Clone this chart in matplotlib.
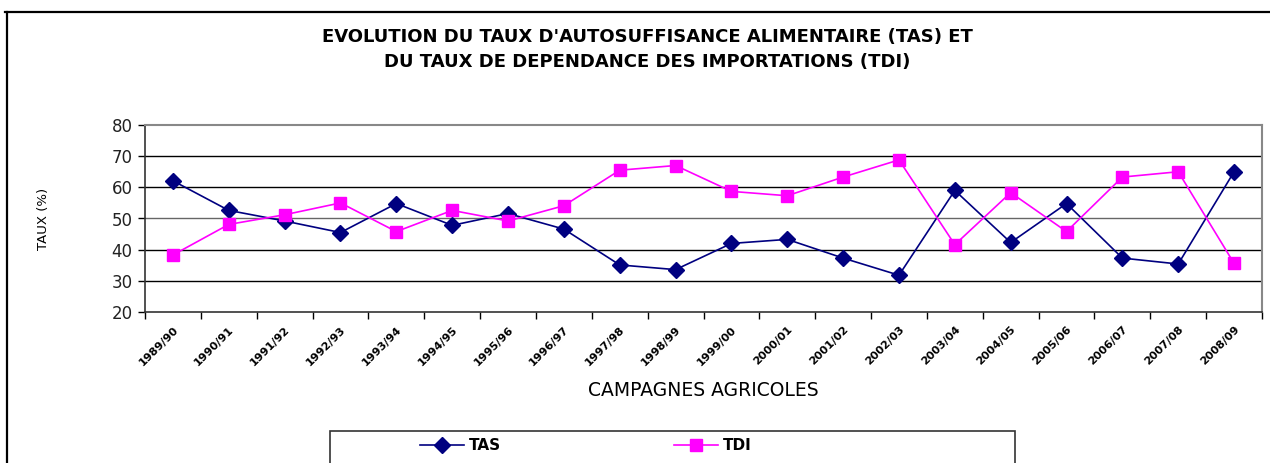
import matplotlib.pyplot as plt
from matplotlib.lines import Line2D
from matplotlib.patches import Rectangle
import numpy as np

campagnes = ["1989/90", "1990/91", "1991/92", "1992/93", "1993/94", "1994/95",
             "1995/96", "1996/97", "1997/98", "1998/99", "1999/00", "2000/01",
             "2001/02", "2002/03", "2003/04", "2004/05", "2005/06", "2006/07",
             "2007/08", "2008/09"]
tas = [62.1, 52.6, 49.2, 45.5, 54.8, 47.8, 51.6, 46.6, 35.1, 33.6,
       42.0, 43.3, 37.3, 31.8, 59.0, 42.3, 54.8, 37.3, 35.4, 65.0]
tdi = [38.3, 48.1, 51.2, 55.0, 45.8, 52.6, 49.2, 54.1, 65.5, 67.0,
       58.7, 57.3, 63.3, 68.8, 41.6, 58.3, 45.8, 63.3, 65.0, 35.6]

W, H = 1270, 463
fig = plt.figure(figsize=(W / 100, H / 100), dpi=100)

# cadre exterieur du graphique (coupe a droite et en bas)
fig.add_artist(Line2D([7 / W, 7 / W], [0, 1 - 12 / H], color="black", lw=1.6))
fig.add_artist(Line2D([5 / W, 1], [1 - 12 / H, 1 - 12 / H], color="black", lw=1.6))

ax = fig.add_axes([145 / W, (H - 312) / H, 1117 / W, 187 / H])
x = np.arange(len(campagnes))

ax.plot(x, tas, color="#000080", lw=1.2, marker="D", ms=8, label="TAS", zorder=3)
ax.plot(x, tdi, color="#FF00FF", lw=1.2, marker="s", ms=8, label="TDI", zorder=3)

ax.set_xlim(-0.5, len(campagnes) - 0.5)
ax.set_ylim(20, 80)
ax.set_yticks(range(20, 81, 10))
ax.tick_params(axis="y", labelsize=12, length=5, width=1, direction="out", pad=4)
for t in ax.get_yticklabels():
    t.set_color("#222222")

for v in range(30, 80, 10):
    ax.axhline(v, color="black" if v != 50 else "#666666", lw=1, zorder=1)

# graduations entre les categories, etiquettes au centre
ax.set_xticks(np.arange(-0.5, len(campagnes), 1.0))
ax.set_xticklabels([])
ax.tick_params(axis="x", length=5, width=1, direction="out")
ax.set_xticks(x, minor=True)
ax.set_xticklabels(campagnes, minor=True, rotation=45, ha="right",
                   rotation_mode="anchor", fontsize=8, fontweight="bold")
ax.tick_params(axis="x", which="minor", length=0, pad=9)

for side in ["top", "right"]:
    ax.spines[side].set_color("#888888")
    ax.spines[side].set_linewidth(1.5)
for side in ["left", "bottom"]:
    ax.spines[side].set_color("#333333")
    ax.spines[side].set_linewidth(1.2)

ax.set_ylabel("TAUX (%)", fontsize=9.5)
ax.yaxis.set_label_coords(-95 / 1117, 0.5)
ax.set_xlabel("CAMPAGNES AGRICOLES", fontsize=13.5)
ax.xaxis.set_label_coords(0.5, -0.37)

fig.text(647 / W, 1 - 37 / H, "EVOLUTION DU TAUX D'AUTOSUFFISANCE ALIMENTAIRE (TAS) ET",
         ha="center", va="center", fontsize=13, fontweight="bold")
fig.text(647 / W, 1 - 62 / H, "DU TAUX DE DEPENDANCE DES IMPORTATIONS (TDI)",
         ha="center", va="center", fontsize=13, fontweight="bold")

# cadre de la legende, coupe par le bas de l'image
fig.add_artist(Rectangle((330 / W, -20 / H), 685 / W, 52 / H, transform=fig.transFigure,
                         fill=False, edgecolor="#333333", lw=1.2))
leg = fig.legend(loc="center left", bbox_to_anchor=(420 / W, 1 - 446 / H),
                 ncol=2, frameon=False, prop={"weight": "bold", "size": 11},
                 handlelength=2.9, handletextpad=0.3, columnspacing=11.3,
                 borderaxespad=0, borderpad=0)

fig.savefig("out.png", dpi=100)
